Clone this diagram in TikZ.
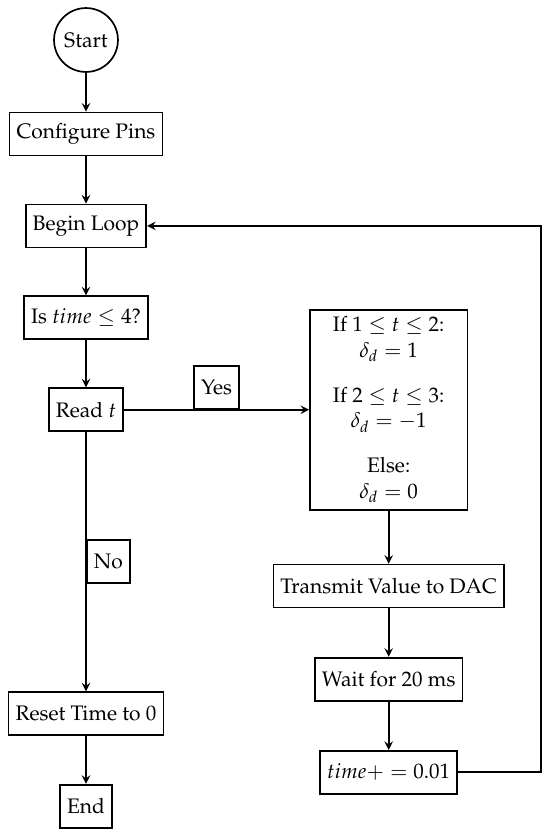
\documentclass[tikz,border=0pt]{standalone}
\usepackage[T1]{fontenc}
\usepackage{mathpazo}
\usetikzlibrary{positioning, arrows.meta}
\tikzset{
  startstop/.style={circle, minimum size=1.07cm, inner sep=1pt, draw=black, thick},
  process/.style={rectangle, minimum height=7.2mm, align=flush center, draw=black, thick},
  answer/.style={rectangle, minimum height=7.2mm, draw=black, thick, fill=white},
  arrow/.style={thick,->,>=stealth}
}
\begin{document}
\begin{tikzpicture}[node distance=7.9mm]
    \path[use as bounding box] (-40.95pt,19.05pt) rectangle (220.95pt,-379.05pt);

    \node (start) [startstop] at (0,0) {Start};
    \node (pins) [process, below=6.5mm of start] {Configure Pins};
    \node (begin) [process, below=of pins] {Begin Loop};
    \node (check) [process, below=of begin] {Is $time \leq 4$?};
    \node (read) [process, below=of check] {Read $t$};
    \node (cases) [process, right=3.1cm of read, text width=2.4cm] {If $1 \leq t \leq 2$:\\ $\delta_d = 1$\\[0.8\baselineskip] If $2 \leq t \leq 3$:\\ $\delta_d = -1$\\[0.8\baselineskip] Else:\\ $\delta_d = 0$};
    \node (dac) [process, below=8.9mm of cases] {Transmit Value to DAC};
    \node (wait) [process, below=8.1mm of dac] {Wait for 20 ms};
    \node (time) [process, below=8.1mm of wait] {$time+=0.01$};
    \node (reset) [process, below=4.34cm of read] {Reset Time to 0};
    \node (end) [process, below=8mm of reset] {End};
    \coordinate (loopx) at (216.7pt,0);

    \draw [arrow] (start) -- (pins);
    \draw [arrow] (pins) -- (begin);
    \draw [arrow] (begin) -- (check);
    \draw [arrow] (check) -- (read);
    \draw [arrow] (read) -- node (yes) [answer, midway, above] {Yes} (cases);
    \draw [arrow] (read) -- node (no) [answer, midway, right] {No} (reset);
    \draw [arrow] (cases) -- (dac);
    \draw [arrow] (dac) -- (wait);
    \draw [arrow] (wait) -- (time);
    \draw [arrow] (reset) -- (end);
    \draw [arrow] (time.east) -- (time.east -| loopx) |- (begin.east);
\end{tikzpicture}
\end{document}
